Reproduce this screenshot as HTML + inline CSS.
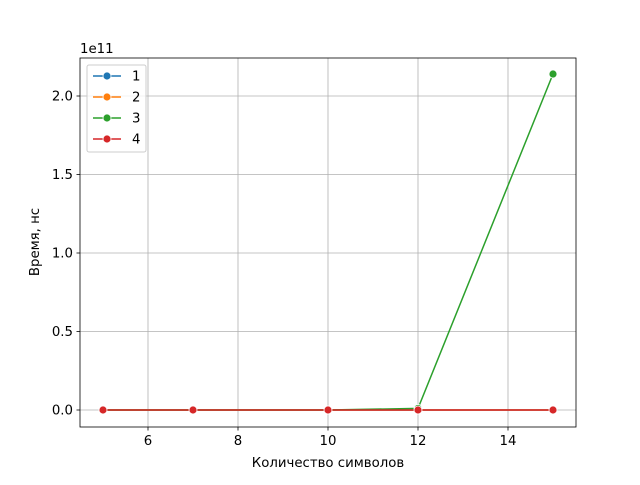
<!DOCTYPE html>
<html><head><meta charset="utf-8">
<style>
body{margin:0;background:#fff;}
svg text{font-family:"DejaVu Sans","Liberation Sans",sans-serif;font-size:13.3px;fill:#000;}
</style></head>
<body>
<svg id="chart" width="640" height="480" xmlns="http://www.w3.org/2000/svg"></svg>
<script>
const xValues=[5,7,10,12,15];
const series1=[0,0,0,0,0];
const series2=[0,0,0,0,0];
const series3=[0,0,0,0.01,2.14];
const series4=[0,0,0,0,0];
const seriesNames=["1","2","3","4"];
const xTicks=[6,8,10,12,14];
const yTicks=[0,0.5,1.0,1.5,2.0];
const yTickLabels=["0.0","0.5","1.0","1.5","2.0"];

const colors=["#1f77b4","#ff7f0e","#2ca02c","#d62728"];
const L=80,R=576,T=58,B=427;
function sx(v){return 103+(v-5)*45;}
function sy(v){return 410-v*157;}
const svg=document.getElementById('chart');
const NS="http://www.w3.org/2000/svg";
function mk(tag,attrs,parent){const e=document.createElementNS(NS,tag);for(const k in attrs)e.setAttribute(k,attrs[k]);(parent||svg).appendChild(e);return e;}

xTicks.forEach(t=>{const l=mk('line',{x1:sx(t),x2:sx(t),y1:T,y2:B,stroke:'#b0b0b0','stroke-width':0.8});

});
yTicks.forEach(t=>{const l=mk('line',{x1:L,x2:R,y1:sy(t),y2:sy(t),stroke:'#b0b0b0','stroke-width':0.8});

});

const all=[series1,series2,series3,series4];
all.forEach((s,i)=>{
 const g=mk('g',{});
 
 
 mk('polyline',{points:s.map((v,j)=>sx(xValues[j])+','+sy(v)).join(' '),fill:'none',stroke:colors[i],'stroke-width':1.5},g);
 s.forEach((v,j)=>{const c=mk('circle',{cx:sx(xValues[j]),cy:sy(v),r:4,fill:colors[i],stroke:'#fff','stroke-width':0.8},g);
 
 });
});

mk('rect',{x:L,y:T,width:R-L,height:B-T,fill:'none',stroke:'#000','stroke-width':0.8});

xTicks.forEach(t=>{mk('line',{x1:sx(t),x2:sx(t),y1:B,y2:B+3.5,stroke:'#000','stroke-width':0.8});
 const tx=mk('text',{x:sx(t),y:B+18,'text-anchor':'middle'});tx.textContent=t;
 
 });
yTicks.forEach((t,i)=>{mk('line',{x1:L-3.5,x2:L,y1:sy(t),y2:sy(t),stroke:'#000','stroke-width':0.8});
 const tx=mk('text',{x:L-7,y:sy(t)+4.5,'text-anchor':'end'});tx.textContent=yTickLabels[i];
 
 });

let t=mk('text',{x:80,y:53});t.textContent='1e11';


t=mk('text',{x:328,y:467,'text-anchor':'middle'});t.textContent='Количество символов';


t=mk('text',{x:0,y:0,'text-anchor':'middle',transform:'translate(39,242) rotate(-90)'});t.textContent='Время, нс';



const lg=mk('g',{});


mk('rect',{x:87,y:65,width:59,height:87,rx:2,fill:'#fff','fill-opacity':0.8,stroke:'#ccc','stroke-width':1},lg);
seriesNames.forEach((n,i)=>{const y=76+i*21;
 const e=mk('g',{},lg);
 
 
 mk('line',{x1:93,x2:121,y1:y,y2:y,stroke:colors[i],'stroke-width':1.5},e);
 mk('circle',{cx:107,cy:y,r:4,fill:colors[i],stroke:'#fff','stroke-width':0.8},e);
 const tx=mk('text',{x:132,y:y+4.5},e);tx.textContent=n;});
</script>
</body></html>
